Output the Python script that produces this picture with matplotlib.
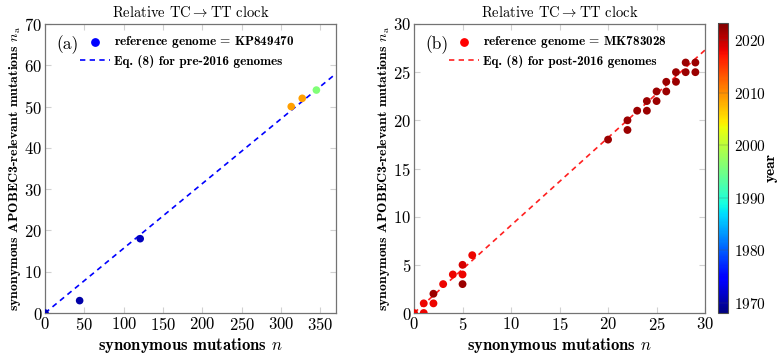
import matplotlib
matplotlib.use("Agg")
import matplotlib.pyplot as plt
from matplotlib.font_manager import FontProperties
import numpy as np

plt.rcParams["font.family"] = "cmr10"
plt.rcParams["mathtext.fontset"] = "cm"
plt.rcParams["axes.formatter.use_mathtext"] = True

# panel (a): pre-2016 genomes, reference KP849470
a_n = [0, 44, 121, 313, 327, 345]
a_na = [0, 3, 18, 50, 52, 54]
a_year = [1971, 1970, 1971, 2009, 2009, 1996]
a_fit_x = [0, 370]
a_fit_y = [0, 58.0]

# panel (b): post-2016 genomes, reference MK783028
b_n = [0, 1, 1, 2, 2, 3, 4, 5, 5, 5, 6,
       20, 22, 22, 23, 24, 24, 25, 25, 26, 26, 27, 27, 28, 28, 29, 29]
b_na = [0, 0, 1, 1, 2, 3, 4, 5, 4, 3, 6,
        18, 19, 20, 21, 21, 22, 22, 23, 23, 24, 24, 25, 25, 26, 25, 26]
b_year = [2018, 2018, 2018, 2018, 2022, 2018, 2018, 2019, 2018, 2022, 2018,
          2022, 2022, 2022, 2022, 2022, 2022, 2022, 2022, 2022, 2022,
          2022, 2022, 2022, 2022, 2022, 2022]
b_fit_x = [0, 30]
b_fit_y = [0, 27.3]

year_min, year_max = 1968, 2023.3
bold = "cmb10"

fig = plt.figure(figsize=(7.79, 3.55), dpi=100)
axa = fig.add_axes([0.0578, 0.1183, 0.3736, 0.8141])
axb = fig.add_axes([0.5315, 0.1183, 0.3736, 0.8141])
cax = fig.add_axes([0.9217, 0.1183, 0.0128, 0.817])

def style(ax):
    for s in ax.spines.values():
        s.set_color("0.45")
        s.set_linewidth(0.9)
    ax.tick_params(direction="in", top=True, right=True, color="0.82",
                   length=4, width=0.8, labelsize=12, pad=2)

def finish(ax, tag, ref_label, ref_color):
    ax.scatter([], [], color=ref_color, s=28, label=ref_label)
    ax.set_title("Relative TC$\\rightarrow$TT clock", fontsize=10.5, pad=5)
    ax.set_xlabel("synonymous mutations $n$", family=bold, fontsize=12, labelpad=2)
    ax.set_ylabel("synonymous APOBEC3-relevant mutations $n_\\mathrm{a}$",
                  family=bold, fontsize=10, labelpad=1)
    h, l = ax.get_legend_handles_labels()
    ax.legend(h[::-1], l[::-1], loc="upper left", bbox_to_anchor=(0.12, 0.965),
              frameon=False, prop=FontProperties(family=bold, size=9.5),
              handlelength=2.3, handletextpad=0.25, labelspacing=0.35,
              borderaxespad=0, borderpad=0)
    ax.text(0.04, 0.928, tag, transform=ax.transAxes, fontsize=12.5,
            va="center", ha="left")

# (a)
axa.plot(a_fit_x, a_fit_y, color="blue", ls=(0, (3.2, 2.6)), lw=1.2,
         label="Eq. (8) for pre-2016 genomes", zorder=2)
axa.scatter(a_n, a_na, c=a_year, cmap="jet", vmin=year_min, vmax=year_max,
            s=30, zorder=3, edgecolors="none")
axa.set_xlim(0, 370)
axa.set_ylim(0, 70)
axa.set_xticks(np.arange(0, 351, 50))
axa.set_yticks(np.arange(0, 71, 10))
style(axa)
finish(axa, "(a)", "reference genome$\\,=\\,$KP849470", "blue")

# (b)
axb.plot(b_fit_x, b_fit_y, color="#ff2020", ls=(0, (3.2, 2.6)), lw=1.2,
         label="Eq. (8) for post-2016 genomes", zorder=2)
sc = axb.scatter(b_n, b_na, c=b_year, cmap="jet", vmin=year_min, vmax=year_max,
                 s=32, zorder=3, edgecolors="none")
axb.set_xlim(0, 30)
axb.set_ylim(0, 30)
axb.set_xticks(np.arange(0, 31, 5))
axb.set_yticks(np.arange(0, 31, 5))
style(axb)
finish(axb, "(b)", "reference genome$\\,=\\,$MK783028", "red")

cb = fig.colorbar(sc, cax=cax)
cb.set_ticks(np.arange(1970, 2021, 10))
cb.ax.tick_params(labelsize=11, direction="in", length=0, pad=4)
cb.outline.set_edgecolor("0.3")
for t in np.arange(1970, 2021, 10):
    cax.axhline(t, color="0.3", lw=0.3, alpha=0.6)
cb.set_label("year", family=bold, fontsize=11, labelpad=-1)

fig.savefig("out.png", dpi=100)
